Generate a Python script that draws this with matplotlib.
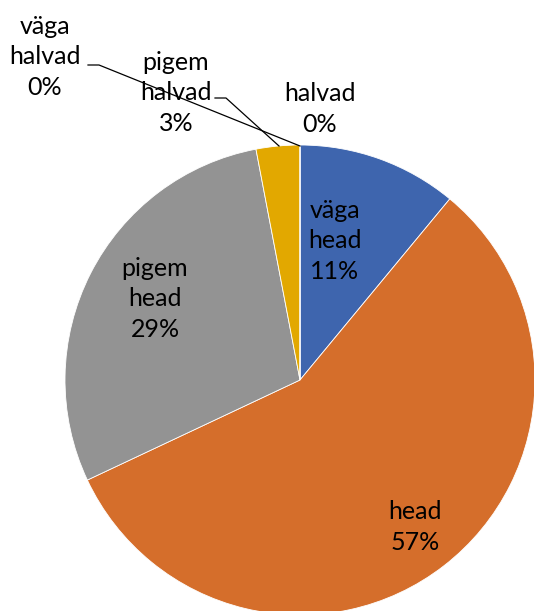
import matplotlib.pyplot as plt

# survey answers (share in %)
categories = ['väga\nhead', 'head', 'pigem\nhead', 'pigem\nhalvad', 'halvad', 'väga\nhalvad']
values = [11, 57, 29, 3, 0, 0]
colors = ['#3E65AE', '#D56E2B', '#939393', '#E2A800', '#4E7AC7', '#F08A3C']

# label centres in pixels (x, y from top), Excel-like manual placement
label_px = [(335, 241), (415, 527), (155, 299), (176, 93), (320, 109), (45, 57)]
# leader lines: (text end, elbow, point on pie)
leaders = {5: [(88, 65), (99, 65), (300, 146)],
           3: [(215, 98), (226, 98), (279, 146)]}

W, H = 534, 611
cx, cy, r = 300, 380, 235

def to_data(px, py):
    return (px - cx) / r, (cy - py) / r

fig = plt.figure(figsize=(W / 100, H / 100), dpi=100)
ax = fig.add_axes([0, 0, 1, 1])
ax.pie(values, colors=colors, startangle=90, counterclock=False, radius=1,
       wedgeprops=dict(edgecolor='white', linewidth=0.6))
ax.set_xlim(-cx / r, (W - cx) / r)
ax.set_ylim((cy - H) / r, cy / r)
ax.set_aspect('equal')
ax.axis('off')

for i, (cat, v) in enumerate(zip(categories, values)):
    x, y = to_data(*label_px[i])
    ax.text(x, y, f'{cat}\n{v}%', ha='center', va='center', fontsize=18,
            family='Lato', linespacing=1.38, color='#000000')

for i, pts in leaders.items():
    xs, ys = zip(*[to_data(*p) for p in pts])
    ax.plot(xs, ys, color='black', lw=0.9)

fig.savefig('out.png', dpi=100)
